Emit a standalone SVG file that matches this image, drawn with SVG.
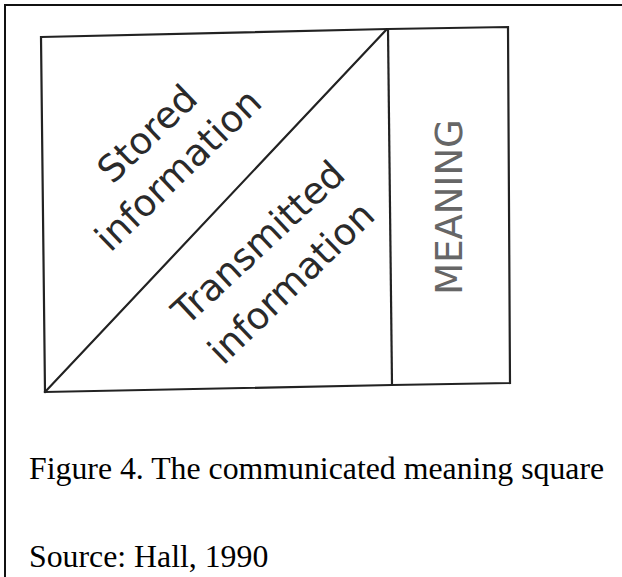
<svg xmlns="http://www.w3.org/2000/svg" width="622" height="577" viewBox="0 0 622 577">
<style>
.ln{fill:none;stroke:#222;stroke-width:2.2;stroke-linecap:square}
.lab{font-family:"DejaVu Sans",sans-serif;font-size:37px;fill:#2a2a2a;text-anchor:middle}
.mean{font-family:"DejaVu Sans",sans-serif;font-size:37px;fill:#666;text-anchor:middle}
.cap{font-family:"Liberation Serif","Times New Roman",serif;font-size:31.8px;fill:#000}
</style>
<rect width="622" height="577" fill="#fff"/>
<path d="M5,577 V5 H622" fill="none" stroke="#111" stroke-width="2"/>
<g id="connectors">
<path class="ln" d="M41,37 L388,29 L508,27 L510,383 L392,385 L45,392 Z"/>
<path class="ln" d="M388,29 L392,385"/>
<path class="ln" d="M45,392 L386,30"/>
</g>
<g id="stored">
<text class="lab" transform="translate(156,143) rotate(-44)">Stored</text>
<text class="lab" transform="translate(187,179) rotate(-44)">information</text>
</g>
<g id="transmitted">
<text class="lab" transform="translate(267,252) rotate(-43)">Transmitted</text>
<text class="lab" transform="translate(300,292) rotate(-44)">information</text>
</g>
<g id="meaning">
<text class="mean" transform="translate(462,207) rotate(-90)">MEANING</text>
</g>
<g id="caption">
<text class="cap" x="29" y="479">Figure 4. The communicated meaning square</text>
<text class="cap" x="29" y="567">Source: Hall, 1990</text>
</g>
</svg>
